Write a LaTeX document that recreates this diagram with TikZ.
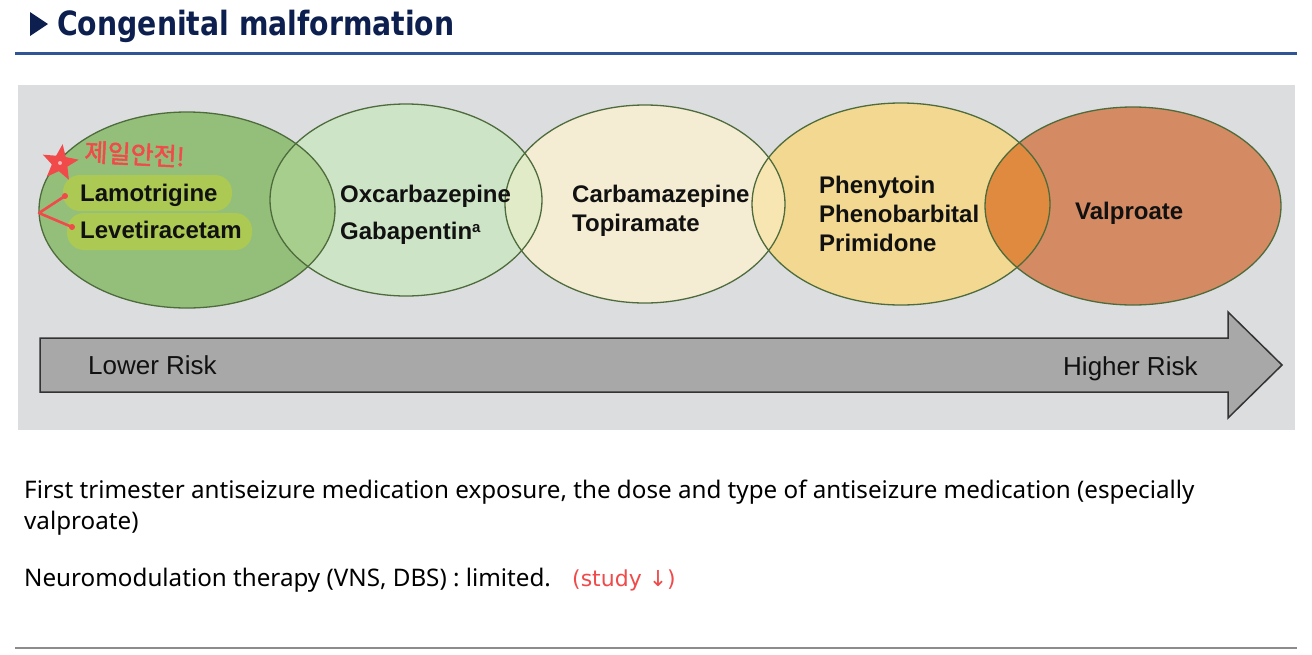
\documentclass[tikz,border=0pt]{standalone}
\usepackage{fontspec}
\setmainfont{Noto Sans}
\newfontfamily\arialf{Liberation Sans}
\newfontfamily\krfont[FakeBold=2]{Noto Sans CJK KR}
\newfontfamily\djv{DejaVu Sans}
\newfontfamily\titlef{DejaVu Sans}
\usetikzlibrary{shapes.geometric}
\definecolor{navy}{HTML}{0D1F4F}
\definecolor{rulebl}{HTML}{2F5597}
\definecolor{panel}{HTML}{DCDDDF}
\definecolor{eA}{HTML}{94BF7B}
\definecolor{eB}{HTML}{CDE4C6}
\definecolor{eC}{HTML}{F5ECD4}
\definecolor{eD}{HTML}{F2D890}
\definecolor{eE}{HTML}{D48A62}
\definecolor{oAB}{HTML}{A8CE8E}
\definecolor{oBC}{HTML}{E2EBC8}
\definecolor{oCD}{HTML}{F8E6B2}
\definecolor{oDE}{HTML}{E08A3F}
\definecolor{eline}{HTML}{4E6B3C}
\definecolor{pill}{HTML}{ABC953}
\definecolor{arr}{HTML}{A8A8A8}
\definecolor{pen}{HTML}{F04A4A}
\definecolor{txt}{HTML}{111111}
\tikzset{
  drug/.style={anchor=base west,inner sep=0pt,font=\arialf\bfseries\fontsize{24}{24}\selectfont,text=txt},
  risk/.style={anchor=base west,inner sep=0pt,font=\arialf\fontsize{26}{26}\selectfont,text=txt},
  body/.style={anchor=base west,inner sep=0pt,font=\fontsize{24.2}{24.2}\selectfont,text=black},
  pillbox/.style={fill=pill,rounded corners=17pt,draw=none},
  eout/.style={draw=eline,line width=1.3pt},
  penline/.style={draw=pen,line width=2.6pt,line cap=round,line join=round},
}
\begin{document}
\begin{tikzpicture}[x=1pt,y=-1pt]
\useasboundingbox (0,0) rectangle (1312,654);
\fill[white] (0,0) rectangle (1312,654);
% title
\fill[navy] (30,12) -- (48,24) -- (30,36) -- cycle;
\node[anchor=base west,inner sep=0pt,font=\titlef\bfseries\fontsize{28.3}{28.3}\selectfont,text=navy] (title) at (57,35) {\scalebox{1}[1.18]{Congenital malformation}};
\draw[rulebl,line width=3pt] (15,53) -- (1297,53);
% panel
\fill[panel] (18,85) rectangle (1295,430);
% ellipses
\def\EA{(187,210) ellipse [x radius=148pt,y radius=98pt]}
\def\EB{(406,200) ellipse [x radius=136pt,y radius=96pt]}
\def\EC{(645,204) ellipse [x radius=140pt,y radius=99pt]}
\def\ED{(901,204) ellipse [x radius=149pt,y radius=101pt]}
\def\EE{(1133,206) ellipse [x radius=148pt,y radius=99pt]}
\fill[eA] \EA; \fill[eB] \EB; \fill[eC] \EC; \fill[eD] \ED; \fill[eE] \EE;
\begin{scope}\clip \EA; \fill[oAB] \EB;\end{scope}
\begin{scope}\clip \EB; \fill[oBC] \EC;\end{scope}
\begin{scope}\clip \EC; \fill[oCD] \ED;\end{scope}
\begin{scope}\clip \ED; \fill[oDE] \EE;\end{scope}
\draw[eout] \EA; \draw[eout] \EB; \draw[eout] \EC; \draw[eout] \ED; \draw[eout] \EE;
% pills
\fill[pillbox] (63,175) rectangle (232,211);
\fill[pillbox] (67,213) rectangle (252,250);
% drug labels
\node[drug] (lam) at (80,201) {Lamotrigine};
\node[drug] (lev) at (80,238) {Levetiracetam};
\node[drug] (oxc) at (340,202) {Oxcarbazepine};
\node[drug] (gab) at (340,239) {Gabapentin\raisebox{7pt}{\fontsize{15}{15}\selectfont a}};
\node[drug] (cbz) at (572,202) {Carbamazepine};
\node[drug] (top) at (572,231) {Topiramate};
\node[drug] (phe) at (819,193) {Phenytoin};
\node[drug] (phb) at (819,222) {Phenobarbital};
\node[drug] (pri) at (819,251) {Primidone};
\node[drug] (val) at (1075,219) {Valproate};
% arrow
\draw[fill=arr,draw=black!80,line width=1.5pt,line join=miter]
  (40,338) -- (1228,338) -- (1228,312) -- (1282,365) -- (1228,418) -- (1228,392) -- (40,392) -- cycle;
\node[risk] (low) at (88,374) {Lower Risk};
\node[risk] (high) at (1063,375) {Higher Risk};
% body text
\node[body] (l1) at (24,498) {First trimester antiseizure medication exposure, the dose and type of antiseizure medication (especially};
\node[body] (l2) at (24,529) {valproate)};
\node[body] (l3) at (24,586) {Neuromodulation therapy (VNS, DBS) : limited.};
\draw[black!45,line width=1.5pt] (15,648) -- (1297,648);
% handwritten annotations
\node[star,star points=5,star point ratio=2.3,fill=pen,minimum size=38pt,inner sep=0pt,rotate=-8] (star) at (60,163) {};
\fill[pen!40] (star.center) circle (2pt);
\node[anchor=base west,inner sep=0pt,font=\krfont\fontsize{25}{25}\selectfont,text=pen,rotate=-3] (kr) at (84,161) {제일안전!};
\coordinate (pa) at (65,196);
\coordinate (pb) at (39,213);
\coordinate (pc) at (72,227);
\draw[penline] (pa) -- (pb) -- (pc);
\fill[pen] (pa) circle (3pt) (pc) circle (3pt);
\node[anchor=base west,inner sep=0pt,font=\djv\fontsize{22}{22}\selectfont,text=pen] (study) at (572,586) {(study ↓)};
\end{tikzpicture}
\end{document}
